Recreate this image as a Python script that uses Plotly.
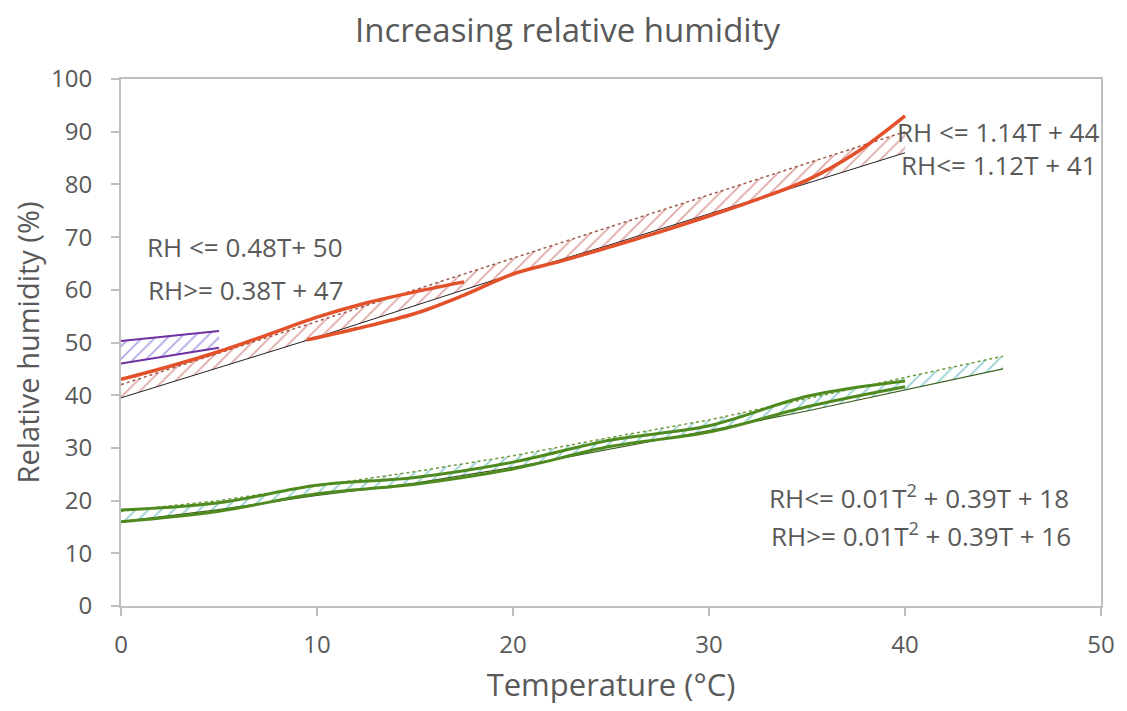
import plotly.graph_objects as go

# ---- data ----
T_red = [0, 5, 10, 15, 20, 25, 30, 35, 40]
red_band_low = [39.5, 45.2, 51.0, 57.0, 63.0, 68.6, 74.4, 80.2, 86.0]
red_band_high = [42.0, 48.0, 54.0, 60.0, 66.0, 72.0, 78.0, 84.0, 90.0]

T_red_a = [0, 2.5, 5, 7.5, 10, 12.5, 15, 17.5]
red_obs_a = [43.0, 45.5, 48.3, 51.5, 54.8, 57.5, 59.6, 61.5]
T_red_b = [9.5, 12, 15, 17.5, 20, 22.5, 25, 27.5, 30, 32.5, 35, 37.5, 40]
red_obs_b = [50.5, 52.6, 55.5, 59.0, 63.0, 65.5, 68.2, 71.0, 74.0, 77.2, 80.8, 86.0, 93.0]

T_purple = [0, 5]
purple_low = [46.0, 49.0]
purple_high = [50.3, 52.2]

T_green = [0, 5, 10, 15, 20, 25, 30, 35, 40, 45]
green_band_low = [16.0, 18.3, 21.0, 23.3, 26.3, 29.8, 33.3, 37.0, 41.0, 45.0]
green_band_high = [18.0, 20.0, 22.8, 25.5, 28.5, 32.0, 35.3, 39.3, 43.3, 47.4]

T_green_obs = [0, 5, 10, 15, 20, 25, 30, 35, 40]
green_obs_a = [18.2, 19.6, 22.9, 24.4, 27.3, 31.5, 34.2, 39.8, 42.7]
green_obs_b = [16.0, 18.0, 21.3, 23.1, 26.0, 30.3, 33.0, 37.8, 41.6]

x_ticks = [0, 10, 20, 30, 40, 50]
y_ticks = [0, 10, 20, 30, 40, 50, 60, 70, 80, 90, 100]

TXT = "#595959"
FONT = "Open Sans"
RED = "#E2512A"
GREEN = "#4F8A1F"
PURPLE = "#7030A0"

fig = go.Figure()

# red band
fig.add_trace(go.Scatter(x=T_red, y=red_band_low, mode="lines",
                         line=dict(color="#222222", width=1), showlegend=False))
fig.add_trace(go.Scatter(x=T_red, y=red_band_high, mode="lines", fill="tonexty",
                         fillcolor="rgba(255,255,255,0)",
                         fillpattern=dict(shape="/", fgcolor="#C0504D", bgcolor="rgba(255,255,255,0)",
                                          size=9, solidity=0.2),
                         line=dict(color="#9E5A4A", width=1.5, dash="dot"), showlegend=False))
# red observed lines
fig.add_trace(go.Scatter(x=T_red_a, y=red_obs_a, mode="lines", line=dict(color=RED, width=3.5, shape="spline"),
                         showlegend=False))
fig.add_trace(go.Scatter(x=T_red_b, y=red_obs_b, mode="lines", line=dict(color=RED, width=3.5, shape="spline"),
                         showlegend=False))

# purple band
fig.add_trace(go.Scatter(x=T_purple, y=purple_low, mode="lines",
                         line=dict(color=PURPLE, width=2), showlegend=False))
fig.add_trace(go.Scatter(x=T_purple, y=purple_high, mode="lines", fill="tonexty",
                         fillcolor="rgba(255,255,255,0)",
                         fillpattern=dict(shape="/", fgcolor="#5B4FD0", bgcolor="rgba(255,255,255,0)",
                                          size=9, solidity=0.2),
                         line=dict(color=PURPLE, width=2), showlegend=False))

# green band
fig.add_trace(go.Scatter(x=T_green, y=green_band_low, mode="lines",
                         line=dict(color="#3B5F1E", width=1.2), showlegend=False))
fig.add_trace(go.Scatter(x=T_green, y=green_band_high, mode="lines", fill="tonexty",
                         fillcolor="rgba(255,255,255,0)",
                         fillpattern=dict(shape="/", fgcolor="#2E9FA8", bgcolor="rgba(255,255,255,0)",
                                          size=9, solidity=0.2),
                         line=dict(color="#6E9A3A", width=1.5, dash="dot"), showlegend=False))
fig.add_trace(go.Scatter(x=T_green_obs, y=green_obs_a, mode="lines",
                         line=dict(color=GREEN, width=3, shape="spline"), showlegend=False))
fig.add_trace(go.Scatter(x=T_green_obs, y=green_obs_b, mode="lines",
                         line=dict(color=GREEN, width=3, shape="spline"), showlegend=False))

ann_font = dict(family=FONT, size=26, color=TXT)
annotations = [
    dict(x=1.2, y=68.1, text="RH <= 0.48T+ 50", xanchor="left"),
    dict(x=1.3, y=60.0, text="RH>= 0.38T + 47", xanchor="left"),
    dict(x=50, y=90.0, text="RH <= 1.14T + 44", xanchor="right"),
    dict(x=49.9, y=83.7, text="RH<= 1.12T + 41", xanchor="right"),
    dict(x=40.7, y=20.7, text="RH<= 0.01T<sup>2</sup> + 0.39T + 18", xanchor="center"),
    dict(x=40.8, y=13.4, text="RH>= 0.01T<sup>2</sup> + 0.39T + 16", xanchor="center"),
]
for a in annotations:
    a.update(xref="x", yref="y", showarrow=False, font=ann_font, yanchor="middle")

axis_common = dict(showgrid=False, zeroline=False, showline=True, linecolor="#BFBFBF", linewidth=2,
                   mirror=True, ticks="outside", ticklen=8, tickcolor="#BFBFBF", tickwidth=2,
                   tickfont=dict(family=FONT, size=24, color=TXT))

# the page adds an 8px body margin, so the figure is sized/margined to compensate
fig.update_layout(
    width=1119, height=703,
    margin=dict(l=113, r=20, t=71, b=105),
    paper_bgcolor="white", plot_bgcolor="white",
    title=dict(text="Increasing relative humidity", x=0.5, xanchor="center", y=0.968, yanchor="middle",
               font=dict(family=FONT, size=33, color=TXT)),
    xaxis=dict(range=[0, 50], tickvals=x_ticks, ticklabelstandoff=8,
               title=dict(text="Temperature (°C)", standoff=16,
                          font=dict(family=FONT, size=31, color=TXT)), **axis_common),
    yaxis=dict(range=[0, 100], tickvals=y_ticks, ticklabelstandoff=14,
               title=dict(text="Relative humidity (%)", standoff=8,
                          font=dict(family=FONT, size=29, color=TXT)), **axis_common),
    annotations=annotations,
)

fig.write_html("out.html")
